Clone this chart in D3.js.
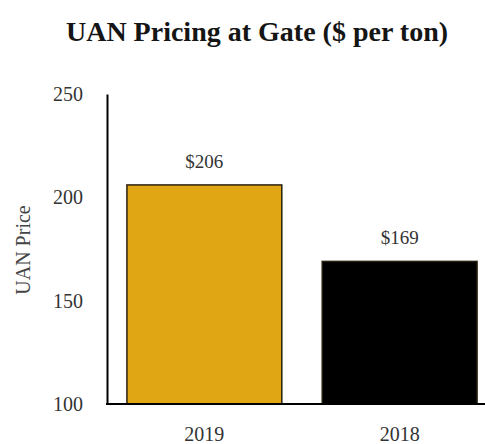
<!DOCTYPE html>
<html>
<head>
<meta charset="utf-8">
<script src="https://cdn.jsdelivr.net/npm/d3@7.9.0/dist/d3.min.js"></script>
<style>
  body { margin: 0; background: #fff; }
  svg text { font-family: "Liberation Serif", "Times New Roman", serif; }
</style>
</head>
<body>
<svg id="chart" width="485" height="444"></svg>
<script>
const years = ['2019', '2018'];
const prices = [206, 169];
const barColors = ['#e0a614', '#000000'];
const yTicks = [100, 150, 200, 250];

const svg = d3.select('#chart');
const margin = { top: 94, left: 107, bottom: 404 };

let x = d3.scaleBand()
    .domain(years)
    .range([107, 497])
    .paddingInner(0.207)
    .paddingOuter(0.102);

let y = d3.scaleLinear().domain([100, 250]).range([404, 94]);

// title
svg.append('text')
    .attr('x', 257)
    .attr('y', 41)
    .attr('text-anchor', 'middle')
    .attr('font-size', 28)
    .attr('font-weight', 'bold')
    .attr('fill', '#151515')
    .text('UAN Pricing at Gate ($ per ton)');

// bars
svg.selectAll('rect.bar')
    .data(prices)
    .join('rect')
    .attr('class', 'bar')
    .attr('x', (d, i) => x(years[i]))
    .attr('y', d => y(d))
    .attr('width', x.bandwidth())
    .attr('height', d => y(100) - y(d))
    .attr('fill', (d, i) => barColors[i])
    .attr('stroke', '#2a2010')
    .attr('stroke-width', 1.5);

// value labels
svg.selectAll('text.val')
    .data(prices)
    .join('text')
    .attr('class', 'val')
    .attr('x', (d, i) => x(years[i]) + x.bandwidth() / 2)
    .attr('y', d => y(d) - 17)
    .attr('text-anchor', 'middle')
    .attr('font-size', 19)
    .attr('fill', '#333')
    .text(d => '$' + d);

// y axis
let yAxis = svg.append('g')
    .attr('transform', `translate(${margin.left},0)`)
    .call(d3.axisLeft(y).tickValues(yTicks).tickSize(0).tickPadding(24));
yAxis.select('.domain').attr('stroke', '#000').attr('stroke-width', 2);
yAxis.selectAll('text')
    .attr('font-family', '"Liberation Serif", serif')
    .attr('font-size', 20)
    .attr('fill', '#333');

// x axis
let xAxis = svg.append('g')
    .attr('transform', `translate(0,${y(100)})`)
    .call(d3.axisBottom(x).tickSize(0).tickPadding(23));
xAxis.select('.domain').remove();
xAxis.append('line')
    .attr('x1', margin.left - 1).attr('x2', 485)
    .attr('stroke', '#000').attr('stroke-width', 2);
xAxis.selectAll('text')
    .attr('font-family', '"Liberation Serif", serif')
    .attr('font-size', 20)
    .attr('fill', '#333');

// y axis title
svg.append('text')
    .attr('transform', 'translate(30,250) rotate(-90)')
    .attr('text-anchor', 'middle')
    .attr('font-size', 20)
    .attr('fill', '#444')
    .text('UAN Price');
</script>
</body>
</html>
